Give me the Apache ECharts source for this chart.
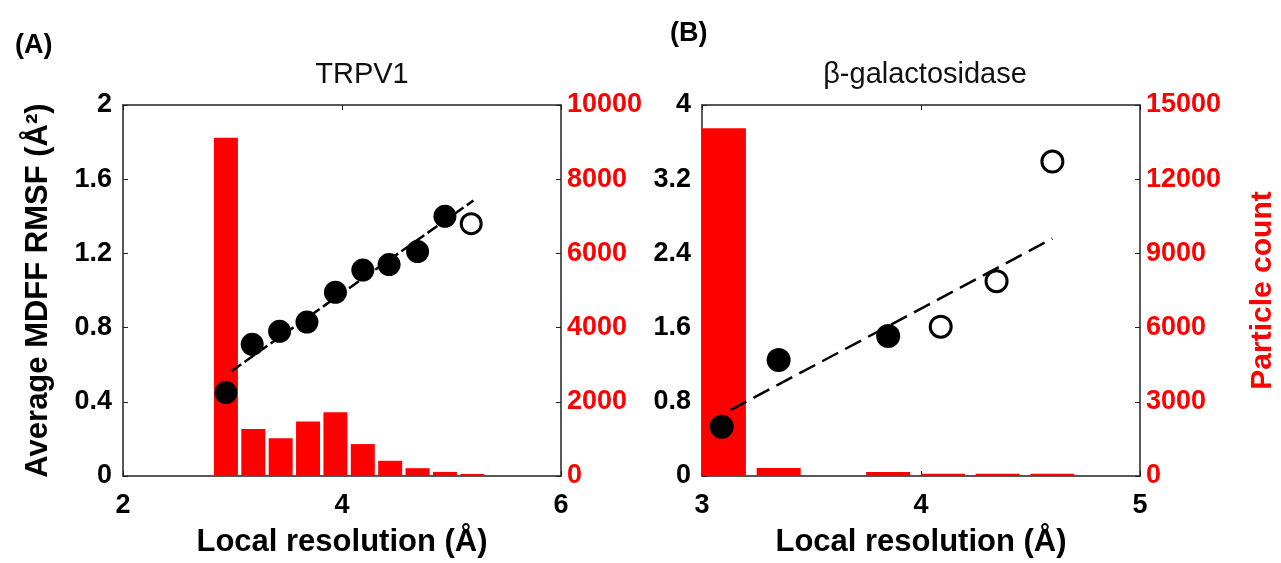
<!DOCTYPE html>
<html>
<head>
<meta charset="utf-8">
<script src="https://cdn.jsdelivr.net/npm/echarts@6/dist/echarts.min.js"></script>
<style>
  html, body { margin: 0; padding: 0; background: #fff; }
  #chart { width: 1281px; height: 563px; }
</style>
</head>
<body>
<div id="chart"></div>
<script>
// TRPV1 - histogram of particle counts and RMSF points
var trpvBinX = [2.94, 3.19, 3.44, 3.69, 3.94, 4.19, 4.44, 4.69, 4.94, 5.19];
var trpvCount = [9120, 1270, 1020, 1470, 1720, 860, 410, 210, 110, 55];
var trpvFilledX = [2.94, 3.18, 3.43, 3.68, 3.94, 4.19, 4.43, 4.69, 4.94];
var trpvFilledY = [0.45, 0.71, 0.78, 0.83, 0.99, 1.11, 1.14, 1.21, 1.40];
var trpvOpenX = [5.18];
var trpvOpenY = [1.36];
var trpvFitX = [2.99, 5.2];
var trpvFitY = [0.565, 1.485];

// beta-galactosidase
var galBinX = [3.10, 3.35, 3.85, 4.10, 4.35, 4.60];
var galCount = [14060, 320, 160, 90, 90, 90];
var galFilledX = [3.09, 3.35, 3.85];
var galFilledY = [0.53, 1.25, 1.51];
var galOpenX = [4.09, 4.345, 4.6];
var galOpenY = [1.61, 2.10, 3.39];
var galFitX = [3.13, 4.6];
var galFitY = [0.71, 2.56];

var FONT = "'Liberation Sans', Arial, sans-serif";
var RED = '#ff0000';

function pairs(xs, ys) {
    return xs.map(function (x, i) { return [x, ys[i]]; });
}
function plain(v) {
    return String(+v.toFixed(2));
}

var chart = echarts.init(document.getElementById('chart'));

function xAxisFor(gi, min, max, step) {
    return [{
        type: 'value', gridIndex: gi, min: min, max: max, interval: step,
        position: 'bottom',
        name: 'Local resolution (Å)', nameLocation: 'middle', nameGap: 51,
        nameTextStyle: { fontFamily: FONT, fontWeight: 'bold', fontSize: 31, color: '#000' },
        axisLine: { onZero: false, lineStyle: { color: '#222', width: 1.5 } },
        axisTick: { inside: true, length: 5, lineStyle: { color: '#222' } },
        axisLabel: { margin: 16, fontFamily: FONT, fontWeight: 'bold', fontSize: 27, color: '#000', formatter: plain },
        splitLine: { show: false }
    }, {
        type: 'value', gridIndex: gi, min: min, max: max, interval: step,
        position: 'top',
        axisLine: { onZero: false, lineStyle: { color: '#222', width: 1.5 } },
        axisTick: { inside: true, length: 5, lineStyle: { color: '#222' } },
        axisLabel: { show: false },
        splitLine: { show: false }
    }];
}

function leftY(gi, max, step, name) {
    return {
        type: 'value', gridIndex: gi, min: 0, max: max, interval: step,
        position: 'left',
        name: name, nameLocation: 'middle', nameGap: name ? 69 : 0, nameRotate: 90,
        nameTextStyle: { fontFamily: FONT, fontWeight: 'bold', fontSize: 31, color: '#000' },
        axisLine: { show: true, onZero: false, lineStyle: { color: '#222', width: 1.5 } },
        axisTick: { show: true, inside: true, length: 5, lineStyle: { color: '#222' } },
        axisLabel: { margin: 11, fontFamily: FONT, fontWeight: 'bold', fontSize: 27, color: '#000', formatter: plain },
        splitLine: { show: false }
    };
}

function rightY(gi, max, step, name) {
    return {
        type: 'value', gridIndex: gi, min: 0, max: max, interval: step,
        position: 'right',
        name: name, nameLocation: 'middle', nameGap: name ? 108 : 0, nameRotate: 90,
        nameTextStyle: { fontFamily: FONT, fontWeight: 'bold', fontSize: 30, color: RED },
        axisLine: { show: true, onZero: false, lineStyle: { color: '#222', width: 1.5 } },
        axisTick: { show: true, inside: true, length: 5, lineStyle: { color: '#222' } },
        axisLabel: { margin: 6, fontFamily: FONT, fontWeight: 'bold', fontSize: 27, color: RED, formatter: plain },
        splitLine: { show: false }
    };
}

var option = {
    animation: false,
    backgroundColor: '#fff',
    title: [
        { text: '(A)', left: 10, top: 27, textStyle: { fontFamily: FONT, fontWeight: 'bold', fontSize: 27, color: '#000' } },
        { text: '(B)', left: 665, top: 15, textStyle: { fontFamily: FONT, fontWeight: 'bold', fontSize: 27, color: '#000' } },
        { text: 'TRPV1', left: 357, top: 55, textAlign: 'center', textStyle: { fontFamily: FONT, fontWeight: 'normal', fontSize: 29, color: '#111' } },
        { text: 'β-galactosidase', left: 920, top: 55, textAlign: 'center', textStyle: { fontFamily: FONT, fontWeight: 'normal', fontSize: 29, color: '#111' } }
    ],
    grid: [
        { left: 123, top: 105, width: 438, height: 373 },
        { left: 702, top: 105, width: 438, height: 373 }
    ],
    xAxis: xAxisFor(0, 2, 6, 2).concat(xAxisFor(1, 3, 5, 1)),
    yAxis: [
        leftY(0, 2, 0.4, 'Average MDFF RMSF (Å²)'),
        rightY(0, 10000, 2000, ''),
        leftY(1, 4, 0.8, ''),
        rightY(1, 15000, 3000, 'Particle count')
    ],
    series: [
        // panel A
        { type: 'bar', xAxisIndex: 0, yAxisIndex: 1, barWidth: 24, itemStyle: { color: RED },
          data: pairs(trpvBinX, trpvCount) },
        { type: 'line', xAxisIndex: 0, yAxisIndex: 0, symbol: 'none',
          lineStyle: { color: '#000', width: 2.5, type: [12, 4] },
          data: pairs(trpvFitX, trpvFitY) },
        { type: 'scatter', xAxisIndex: 0, yAxisIndex: 0, symbol: 'circle', symbolSize: 23,
          itemStyle: { color: '#000', opacity: 1 }, data: pairs(trpvFilledX, trpvFilledY) },
        { type: 'scatter', xAxisIndex: 0, yAxisIndex: 0, symbol: 'circle', symbolSize: 20,
          itemStyle: { color: '#fff', borderColor: '#000', borderWidth: 3, opacity: 1 },
          data: pairs(trpvOpenX, trpvOpenY) },
        // panel B
        { type: 'bar', xAxisIndex: 2, yAxisIndex: 3, barWidth: 44, itemStyle: { color: RED },
          data: pairs(galBinX, galCount) },
        { type: 'line', xAxisIndex: 2, yAxisIndex: 2, symbol: 'none',
          lineStyle: { color: '#000', width: 2.5, type: [18, 8] },
          data: pairs(galFitX, galFitY) },
        { type: 'scatter', xAxisIndex: 2, yAxisIndex: 2, symbol: 'circle', symbolSize: 24,
          itemStyle: { color: '#000', opacity: 1 }, data: pairs(galFilledX, galFilledY) },
        { type: 'scatter', xAxisIndex: 2, yAxisIndex: 2, symbol: 'circle', symbolSize: 21,
          itemStyle: { color: '#fff', borderColor: '#000', borderWidth: 3, opacity: 1 },
          data: pairs(galOpenX, galOpenY) }
    ]
};

chart.setOption(option);
</script>
</body>
</html>
